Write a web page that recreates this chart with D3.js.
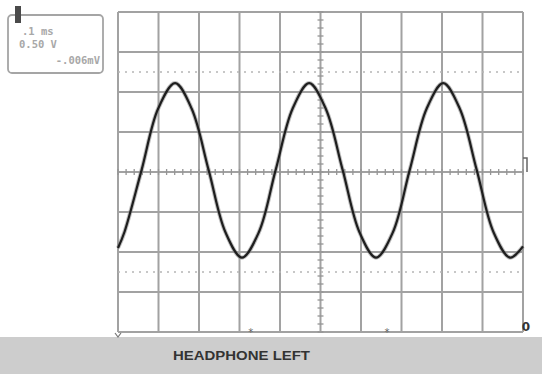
<!DOCTYPE html>
<html>
<head>
<meta charset="utf-8">
<script src="https://cdn.jsdelivr.net/npm/d3@7/dist/d3.min.js"></script>
<style>
  html, body { margin: 0; padding: 0; background: #fff; }
  svg { display: block; }
</style>
</head>
<body>
<svg id="scope" width="542" height="374"></svg>
<script>
// Scope settings shown in the readout box
const readout = [".1 ms", "0.50 V", "-.006mV"];
const caption = "HEADPHONE LEFT";

// Sampled trace: time (ms) and voltage (V)
const timeMs = [0.000, 0.016, 0.058, 0.099, 0.141, 0.182, 0.224, 0.265, 0.306,
                0.348, 0.389, 0.431, 0.472, 0.513, 0.555, 0.596, 0.637,
                0.679, 0.720, 0.762, 0.803, 0.844, 0.886, 0.927, 0.968, 1.000];
const volts  = [-0.95, -0.75, 0.02, 0.79, 1.11, 0.79, 0.02, -0.75, -1.07,
                -0.75, 0.02, 0.79, 1.11, 0.79, 0.02, -0.75, -1.07,
                -0.75, 0.02, 0.79, 1.11, 0.79, 0.02, -0.75, -1.07, -0.93];

// Graticule: 10 horizontal x 8 vertical divisions
const xDivs = d3.range(0, 1.0001, 0.1);      // ms
const yDivs = d3.range(-2, 2.0001, 0.5);     // V
const dottedLevels = [-1.25, 1.25];          // 0% / 100% reference lines

const svg = d3.select("#scope");
const gridColor = "#a2a2a2";

const x = d3.scaleLinear().domain([0, 1.0]).range([118, 523]);
const y = d3.scaleLinear().domain([-2, 2]).range([332, 12]);

// Caption band
svg.append("rect")
  .attr("x", 0).attr("y", 337).attr("width", 542).attr("height", 37)
  .attr("fill", "#cdcdcd");
svg.append("text")
  .attr("x", 173).attr("y", 360)
  .attr("textLength", 137).attr("lengthAdjust", "spacingAndGlyphs")
  .attr("font-family", "Liberation Sans, Arial, sans-serif")
  .attr("font-weight", "bold").attr("font-size", 13)
  .attr("fill", "#333")
  .text(caption);

// Graticule lines
const grid = svg.append("g").attr("stroke", gridColor).attr("stroke-width", 2);
grid.selectAll("line.v").data(xDivs).join("line")
  .attr("class", "v")
  .attr("x1", d => x(d)).attr("x2", d => x(d))
  .attr("y1", y(2)).attr("y2", y(-2));
grid.selectAll("line.h").data(yDivs).join("line")
  .attr("class", "h")
  .attr("y1", d => y(d)).attr("y2", d => y(d))
  .attr("x1", x(0)).attr("x2", x(1));

// Dotted reference levels
svg.append("g").selectAll("line").data(dottedLevels).join("line")
  .attr("x1", x(0)).attr("x2", x(1))
  .attr("y1", d => y(d)).attr("y2", d => y(d))
  .attr("stroke", "#b5b5b5").attr("stroke-width", 1.5)
  .attr("stroke-dasharray", "2 5");

// Minor ticks on the centre axes (5 per division)
const minorX = d3.range(0, 1.0001, 0.02);
const minorY = d3.range(-2, 2.0001, 0.1);
const ticks = svg.append("g").attr("stroke", "#959595").attr("stroke-width", 1.3);
ticks.selectAll("line.mx").data(minorX).join("line")
  .attr("x1", d => x(d)).attr("x2", d => x(d))
  .attr("y1", y(0) - 3).attr("y2", y(0) + 3);
ticks.selectAll("line.my").data(minorY).join("line")
  .attr("y1", d => y(d)).attr("y2", d => y(d))
  .attr("x1", x(0.5) - 3).attr("x2", x(0.5) + 3);

// Trace
const pts = timeMs.map((t, i) => [t, volts[i]]);
const line = d3.line().x(d => x(d[0])).y(d => y(d[1])).curve(d3.curveCatmullRom.alpha(0.5));
svg.append("path").attr("d", line(pts))
  .attr("fill", "none").attr("stroke", "#8a8a8a").attr("stroke-width", 4.2)
  .attr("stroke-opacity", 0.55).attr("stroke-linejoin", "round");
svg.append("path").attr("d", line(pts))
  .attr("fill", "none").attr("stroke", "#1e1e1e").attr("stroke-width", 2.2)
  .attr("stroke-linejoin", "round");

// Readout box
svg.append("rect")
  .attr("x", 8).attr("y", 15).attr("width", 95).attr("height", 58)
  .attr("rx", 4).attr("fill", "#fff")
  .attr("stroke", "#a5a5a5").attr("stroke-width", 1.8);
const rt = svg.append("g")
  .attr("font-family", "DejaVu Sans Mono, monospace")
  .attr("font-size", 10.5).attr("font-weight", "bold").attr("fill", "#a8a8a8");
rt.append("text").attr("x", 22).attr("y", 35).text(readout[0]);
rt.append("text").attr("x", 19).attr("y", 48).text(readout[1]);
rt.append("text").attr("x", 100).attr("y", 64).attr("text-anchor", "end").text(readout[2]);

// Channel marker at top-left
svg.append("rect").attr("x", 15).attr("y", 6).attr("width", 6).attr("height", 17)
  .attr("fill", "#4a4a4a");

// Trigger level marker on the right edge
svg.append("path").attr("d", "M523,158 h4 v13 M527,158 v14")
  .attr("fill", "none").attr("stroke", "#666").attr("stroke-width", 1.5);

// Ground marker bottom-right
svg.append("text").attr("x", 526).attr("y", 331).attr("text-anchor", "middle")
  .attr("font-family", "DejaVu Sans, sans-serif").attr("font-weight", "bold")
  .attr("font-size", 12).attr("fill", "#333").text("0");

// Cursor markers along the bottom edge
svg.append("path").attr("d", "M115,333 l3,4 l3,-4")
  .attr("fill", "none").attr("stroke", "#777").attr("stroke-width", 1.2);
svg.selectAll("text.cur").data([0.328, 0.664]).join("text")
  .attr("class", "cur")
  .attr("x", d => x(d)).attr("y", 336).attr("text-anchor", "middle")
  .attr("font-family", "DejaVu Sans, sans-serif").attr("font-size", 10)
  .attr("fill", "#666").text("*");
</script>
</body>
</html>
